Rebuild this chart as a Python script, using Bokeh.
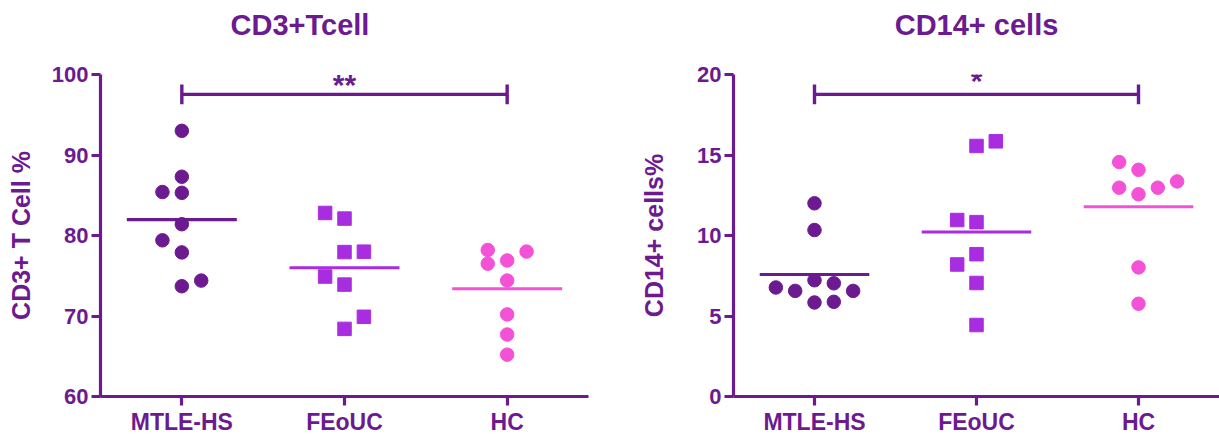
import numpy as np
from bokeh.plotting import figure
from bokeh.layouts import row
from bokeh.models import Range1d, FixedTicker, Title
from bokeh.core.properties import value
from bokeh.embed import file_html
from bokeh.resources import INLINE

# ---------------- data ----------------
groups = ["MTLE-HS", "FEoUC", "HC"]

cd3_mtle = [93.0, 85.3, 81.4, 77.9, 73.7, 87.3, 85.4, 74.4, 79.4]
cd3_feouc = [82.1, 77.94, 73.9, 68.4, 82.8, 77.99, 74.9, 69.9]
cd3_hc = [76.9, 74.4, 70.2, 67.7, 65.2, 78.2, 78.0, 76.5]

cd14_mtle = [12.0, 10.34, 7.22, 5.84, 6.56, 7.03, 5.88, 6.77, 6.56]
cd14_feouc = [15.56, 10.83, 8.84, 7.05, 4.44, 10.96, 15.85, 8.2]
cd14_hc = [14.08, 12.56, 8.02, 5.76, 14.56, 12.97, 12.97, 13.36]

cd3_ticks = [60, 70, 80, 90, 100]
cd14_ticks = [0, 5, 10, 15, 20]

cd3_sig = (0, 2, "**")
cd14_sig = (0, 2, "*")

# ---------------- style ----------------
AXC = "#6c1a8f"
COLORS = ["#6c1a8f", "#a92de0", "#f352d6"]
MARKERS = ["circle", "square", "circle"]
FONT = "Liberation Sans"
FRAME_H = 324
FRAME_W = 488
SLOT_PX = 19.4
MARK = 13.5


def swarm(vals, ppu, thresh_px=13.0):
    placed = []
    slots = []
    for v in vals:
        k = 0
        while True:
            cands = [0] if k == 0 else [-k, k]
            ok = [c for c in cands
                  if all(abs(v - y) * ppu >= thresh_px for s, y in placed if s == c)]
            if ok:
                def key(c):
                    cnt = sum(1 for s, _ in placed if s == c)
                    side = sum(1 for s, _ in placed if s != 0 and (s < 0) == (c < 0))
                    return (cnt, side, c)
                ok.sort(key=key)
                chosen = ok[0]
                break
            k += 1
        placed.append((chosen, v))
        slots.append(chosen)
    return slots


def make_panel(title, ylabel, series, ticks, sig, width, bl, br, title_align, title_offset,
               label_standoff, star_px):
    ymin, ymax = ticks[0], ticks[-1]
    ppu = FRAME_H / (ymax - ymin)
    xppu = FRAME_W / 3.0
    p = figure(width=width, height=437, x_range=Range1d(0, 3), y_range=Range1d(ymin, ymax),
               output_backend="svg", toolbar_location=None,
               min_border_left=bl, min_border_right=br, min_border_top=74, min_border_bottom=39)
    p.add_layout(Title(text=" ", text_font_size="2px", standoff=30), "above")
    p.add_layout(Title(text=title, align=title_align, offset=title_offset,
                       text_font=FONT, text_font_style="bold", text_font_size="29px",
                       text_color=AXC, standoff=0), "above")
    p.xgrid.visible = False
    p.ygrid.visible = False
    p.outline_line_color = None
    p.background_fill_color = "white"
    p.border_fill_color = "white"

    for ax in [p.xaxis[0], p.yaxis[0]]:
        ax.axis_line_width = 3.2
        ax.axis_line_color = AXC
        ax.major_tick_line_width = 3.2
        ax.major_tick_line_color = AXC
        ax.major_tick_out = 9
        ax.major_tick_in = 0
        ax.minor_tick_out = 0
        ax.minor_tick_in = 0
        ax.major_label_text_font = FONT
        ax.major_label_text_font_style = "bold"
        ax.major_label_text_color = AXC
    p.xaxis.ticker = FixedTicker(ticks=[i + 0.5 for i in range(len(groups))])
    p.xaxis.major_label_overrides = {i + 0.5: g for i, g in enumerate(groups)}
    p.xaxis.major_label_text_font_size = "23px"
    p.xaxis.major_label_standoff = 3
    p.yaxis.ticker = FixedTicker(ticks=ticks)
    p.yaxis.major_label_text_font_size = "22px"
    p.yaxis.major_label_standoff = 3
    p.yaxis.axis_label = ylabel
    p.yaxis.axis_label_text_font = FONT
    p.yaxis.axis_label_text_font_style = "bold"
    p.yaxis.axis_label_text_font_size = "25px"
    p.yaxis.axis_label_text_color = AXC
    p.yaxis.axis_label_standoff = label_standoff

    half = 55.0 / xppu
    for i, vals in enumerate(series):
        xc = i + 0.5
        m = float(np.mean(vals))
        p.segment(x0=[xc - half], x1=[xc + half], y0=[m], y1=[m],
                  line_width=3.2, line_color=COLORS[i])
    for i, vals in enumerate(series):
        xc = i + 0.5
        slots = swarm(vals, ppu)
        xs = [xc + s * SLOT_PX / xppu for s in slots]
        p.scatter(x=xs, y=vals, marker=MARKERS[i], size=MARK,
                  fill_color=COLORS[i], line_color=COLORS[i], line_width=1)

    a, b, stars = sig
    xa, xb = a + 0.5, b + 0.5
    by = ymax - 20.0 / ppu
    cap = 10.0 / ppu
    p.segment(x0=[xa], x1=[xb], y0=[by], y1=[by], line_width=3.4, line_color=AXC)
    p.segment(x0=[xa, xb], x1=[xa, xb], y0=[by - cap, by - cap], y1=[by + cap, by + cap],
              line_width=3.4, line_color=AXC)
    p.text(x=[(xa + xb) / 2], y=[by + star_px / ppu], text=[stars],
           text_font=value(FONT), text_font_style="bold", text_font_size="30px",
           text_align="center", text_baseline="alphabetic", text_color=AXC)
    return p


p1 = make_panel("CD3+Tcell", "CD3+ T Cell %", [cd3_mtle, cd3_feouc, cd3_hc], cd3_ticks, cd3_sig,
                637, 100, 49, "left", 130, 14, 10)
p2 = make_panel("CD14+ cells", "CD14+ cells%", [cd14_mtle, cd14_feouc, cd14_hc], cd14_ticks,
                cd14_sig, 1219 - 637, 96, 0, "center", 0, 26, 14)

layout = row(p1, p2)
open("out.html", "w").write(file_html(layout, INLINE))
